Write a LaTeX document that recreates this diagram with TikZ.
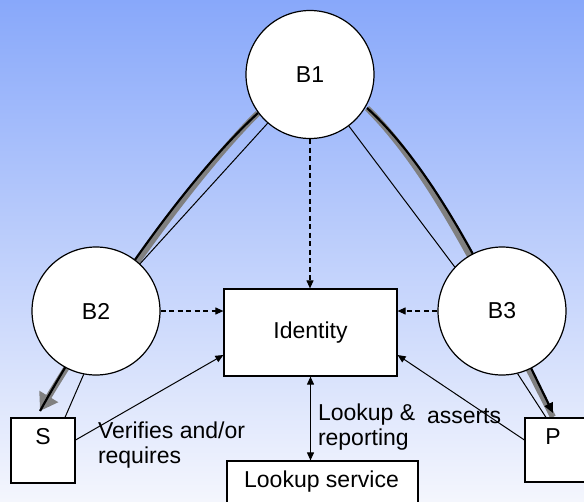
\documentclass[tikz,border=0pt]{standalone}
\usepackage{fontspec}
\setmainfont{Liberation Sans}
\usetikzlibrary{arrows.meta,calc}
\definecolor{bgtop}{RGB}{136,168,250}
\definecolor{bgbot}{RGB}{244,246,253}
\definecolor{shaft}{RGB}{128,128,128}
\begin{document}
\begin{tikzpicture}[x=1pt,y=-1pt,
  font=\fontsize{23}{25.5}\selectfont,
  ball/.style={circle,draw,fill=white,line width=1.2pt,minimum size=128pt,inner sep=0pt},
  box/.style={draw,fill=white,line width=1.2pt,inner sep=0pt},
  txt/.style={inner sep=0pt,outer sep=0pt},
  tip/.style={-{Triangle[length=8pt,width=7pt]}},
  dashline/.style={line width=1.1pt,dash pattern=on 5pt off 3.5pt},
  thin/.style={line width=1pt}]
\fill[top color=bgtop,bottom color=bgbot] (0,0) rectangle (584,501);
\useasboundingbox (0,0) rectangle (584,501);
% curved flows (behind circles)
\coordinate (l0) at (258,113);
\coordinate (l1) at (40,411);
\coordinate (r0) at (367,108);
\coordinate (r1) at (553,413);
\draw[shaft,line width=6pt,-{Triangle[length=17pt,width=21pt]},shift={(3.5,2.5)}]
  (l0) .. controls (184,181) and (98,307) .. (l1);
\draw[line width=2.2pt] (l0) .. controls (184,181) and (98,307) .. (l1);
\draw[shaft,line width=6pt,shift={(-3.5,2.5)}]
  (r0) .. controls (441,175) and (500,305) .. ([yshift=-4pt]r1);
\draw[line width=2.2pt,-{Triangle[length=10pt,width=9pt]}]
  (r0) .. controls (441,175) and (500,305) .. (r1);
% nodes
\node[ball] (B1) at (310,74.5) {B1};
\node[ball] (B2) at (96,311) {B2};
\node[ball] (B3) at (502,311) {B3};
\node[box,minimum width=173pt,minimum height=87pt] (Id) at (310.5,332.5) {Identity};
\node[box,minimum width=64pt,minimum height=65pt] (S) at (43,450.5) {};
\node[txt] (St) at (43,437) {S};
\node[box,minimum width=64pt,minimum height=64pt] (P) at (557,450) {};
\node[txt] (Pt) at (553,437) {P};
\node[box,minimum width=191pt,minimum height=43pt] (LS) at (322.5,482.5) {};
\node[txt] (LSt) at (321.5,482) {Lookup service};
% labels
\node[txt,anchor=north west,align=left] (ver) at (98,421.5) {Verifies and/or\\requires};
\node[txt,anchor=north west,align=left] (lr) at (318,403.5) {Lookup \&\\reporting};
\node[txt,anchor=base west] (as) at (427,423) {asserts};
% thin lines
\draw[thin] (B1.229) -- (B2.47);
\draw[thin] (B1.307) -- (B3.137);
\draw[thin] (B2.259) -- ([xshift=22pt]S.north);
\draw[thin] (B3.284) -- ([xshift=-11pt]P.north);
% dashed arrows
\draw[dashline,tip] (B1.south) -- (B1.south |- Id.north);
\draw[dashline,tip] (B2.east) -- (B2.east -| Id.west);
\draw[dashline,tip] (B3.west) -- (B3.west -| Id.east);
% solid arrows
\draw[thin,tip] ([yshift=10.5pt]S.east) -- ([yshift=-22.5pt]Id.west);
\draw[thin,tip] ([yshift=10pt]P.west) -- ([yshift=-22.5pt]Id.east);
\draw[thin,{Triangle[length=8pt,width=7pt]}-{Triangle[length=8pt,width=7pt]}] (Id.south) -- (Id.south |- LS.north);
\end{tikzpicture}
\end{document}
